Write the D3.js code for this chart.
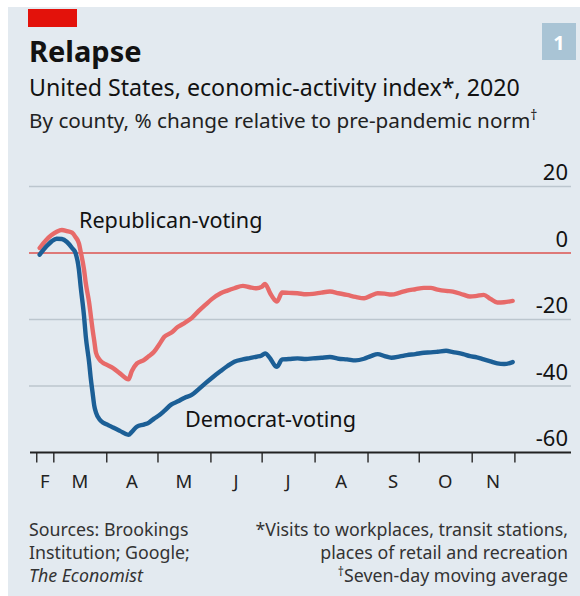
<!DOCTYPE html>
<html>
<head>
<meta charset="utf-8">
<script src="https://cdn.jsdelivr.net/npm/d3@7/dist/d3.min.js"></script>
<style>
  html, body { margin: 0; padding: 0; background: #ffffff; }
  svg { display: block; }
  text { font-family: "Noto Sans", "Open Sans", sans-serif; fill: #121212; }
</style>
</head>
<body>
<svg id="chart" width="580" height="596"></svg>
<script>
// ---- Data ----
const dates = ["2020-02-22","2020-02-26","2020-02-29","2020-03-03","2020-03-06","2020-03-09","2020-03-12","2020-03-14","2020-03-16","2020-03-17","2020-03-19","2020-03-20","2020-03-22","2020-03-23","2020-03-24","2020-03-25","2020-03-26","2020-03-28","2020-03-30","2020-04-02","2020-04-05","2020-04-09","2020-04-14","2020-04-16","2020-04-19","2020-04-23","2020-04-26","2020-04-29","2020-05-02","2020-05-05","2020-05-09","2020-05-13","2020-05-17","2020-05-21","2020-05-25","2020-05-29","2020-06-02","2020-06-07","2020-06-11","2020-06-15","2020-06-20","2020-06-24","2020-06-28","2020-07-01","2020-07-03","2020-07-06","2020-07-09","2020-07-10","2020-07-13","2020-07-17","2020-07-22","2020-07-27","2020-07-31","2020-08-05","2020-08-10","2020-08-15","2020-08-20","2020-08-25","2020-08-30","2020-09-03","2020-09-07","2020-09-11","2020-09-15","2020-09-20","2020-09-24","2020-09-29","2020-10-04","2020-10-08","2020-10-12","2020-10-17","2020-10-21","2020-10-27","2020-10-31","2020-11-04","2020-11-08","2020-11-12","2020-11-16","2020-11-20","2020-11-25"];
const republican = [1.5,4.0,5.4,6.4,6.9,6.6,6.1,4.8,2.9,0.5,-5,-9,-15,-19,-23,-26.5,-30,-32,-33,-33.8,-34.6,-36.2,-38,-35.5,-33.2,-32.2,-31,-29.7,-27.5,-25.2,-24,-22.2,-21,-19.6,-17.5,-15.6,-13.8,-12.1,-11.3,-10.6,-9.9,-10.3,-10.6,-10.2,-9.3,-12.1,-14.3,-14.6,-11.9,-12,-12.1,-12.4,-12.3,-11.9,-11.6,-12.1,-12.6,-13.2,-13.6,-12.8,-12.1,-12.2,-12.5,-11.9,-11.3,-10.9,-10.5,-10.5,-11,-11.4,-11.6,-12.5,-13.1,-12.9,-12.6,-13.8,-14.9,-14.8,-14.4];
const democrat = [-0.5,2.0,3.5,4.3,4.2,3.3,1.5,0,-5,-10,-19,-25,-33,-38,-42,-46,-48,-50,-51,-51.7,-52.5,-53.5,-54.7,-53.8,-52.2,-51.6,-51,-49.8,-48.8,-47.5,-45.6,-44.6,-43.5,-42.7,-41,-39.2,-37.5,-35.5,-34,-32.7,-32,-31.6,-31.2,-30.8,-30.2,-31.7,-34,-34.2,-32,-31.9,-31.7,-31.9,-31.7,-31.5,-31.3,-31.8,-32,-32.3,-31.8,-31,-30.4,-31,-31.5,-31.1,-30.7,-30.4,-30,-29.9,-29.7,-29.4,-29.8,-30.4,-31,-31.4,-32,-32.6,-33.2,-33.4,-32.8];
const yTicks = [20, 0, -20, -40, -60];
const xTickDates = ["2020-02-20","2020-03-01","2020-04-01","2020-05-01","2020-06-01","2020-07-01","2020-08-01","2020-09-01","2020-10-01","2020-11-01","2020-11-26"];
const monthLabels = ["F","M","A","M","J","J","A","S","O","N"];

const parse = d3.timeParse("%Y-%m-%d");
const svg = d3.select("#chart");

// background panel
svg.append("rect").attr("x", 8).attr("y", 7).attr("width", 572).attr("height", 589).attr("fill", "#e3eaf0");
// red tag
svg.append("rect").attr("x", 28).attr("y", 9).attr("width", 49).attr("height", 18).attr("fill", "#e3120b");
// chart number box
svg.append("rect").attr("x", 542).attr("y", 23).attr("width", 34).attr("height", 37).attr("fill", "#a9c4d5");
svg.append("text").attr("x", 559).attr("y", 49.5).attr("text-anchor", "middle")
  .style("font-size", "20px").style("font-weight", "700").style("fill", "#ffffff").text("1");

// titles
svg.append("text").attr("x", 29).attr("y", 62).style("font-size", "29px").style("font-weight", "700").text("Relapse");
svg.append("text").attr("x", 29).attr("y", 96).style("font-size", "23.2px").text("United States, economic-activity index*, 2020");
const sub = svg.append("text").attr("x", 29).attr("y", 128).style("font-size", "20.7px").style("fill", "#222");
sub.append("tspan").text("By county, % change relative to pre-pandemic norm");
sub.append("tspan").attr("dy", -8).style("font-size", "14px").text("†");

// scales
const x = d3.scaleTime().domain([parse("2020-03-01"), parse("2020-11-01")]).range([53.3, 471.7]);
const y = d3.scaleLinear().domain([-60, 20]).range([452.5, 186.5]);

// gridlines
svg.append("g").selectAll("line").data(yTicks.filter(d => d !== 0 && d !== -60)).join("line")
  .attr("x1", 29).attr("x2", 571).attr("y1", d => y(d)).attr("y2", d => y(d))
  .attr("stroke", "#bcc6ce").attr("stroke-width", 1.5);

// y labels
svg.append("g").selectAll("text").data(yTicks).join("text")
  .attr("x", 568).attr("y", d => y(d) - 6.5).attr("text-anchor", "end")
  .style("font-size", "22px").text(d => d);

// zero line
svg.append("line").attr("x1", 29).attr("x2", 571).attr("y1", y(0)).attr("y2", y(0))
  .attr("stroke", "#dc5350").attr("stroke-width", 1.6);

// x axis
const xAxis = d3.axisBottom(x).tickValues(xTickDates.map(parse)).tickFormat("").tickSize(10).tickSizeOuter(0);
const gx = svg.append("g").attr("transform", `translate(0,${y(-60)})`).call(xAxis);
gx.select(".domain").remove();
gx.selectAll(".tick line").attr("stroke", "#333").attr("stroke-width", 1.5);
svg.append("line").attr("x1", 30).attr("x2", 571).attr("y1", y(-60)).attr("y2", y(-60))
  .attr("stroke", "#222").attr("stroke-width", 2);

// month labels centred between ticks
const tickDs = xTickDates.map(parse);
svg.append("g").selectAll("text").data(monthLabels).join("text")
  .attr("x", (d, i) => (x(tickDs[i]) + x(tickDs[i + 1])) / 2)
  .attr("y", 488).attr("text-anchor", "middle").style("font-size", "18.5px").style("fill", "#222")
  .text(d => d);

// lines
const series = [
  { name: "Republican-voting", values: republican, color: "#e76a69" },
  { name: "Democrat-voting", values: democrat, color: "#1c5f96" }
];
const line = d3.line().x((d, i) => x(parse(dates[i]))).y(d => y(d)).curve(d3.curveMonotoneX);
svg.append("g").selectAll("path").data(series).join("path")
  .attr("d", s => line(s.values)).attr("fill", "none")
  .attr("stroke", s => s.color).attr("stroke-width", 4.4)
  .attr("stroke-linejoin", "round").attr("stroke-linecap", "round");

// series labels
svg.append("text").attr("x", 79).attr("y", 228).style("font-size", "21.6px").text("Republican-voting");
svg.append("text").attr("x", 185).attr("y", 427).style("font-size", "21.6px").text("Democrat-voting");

// footer
const fs = "17.8px";
const left = svg.append("g").style("font-size", fs);
left.append("text").attr("x", 29).attr("y", 536).style("fill", "#333").text("Sources: Brookings");
left.append("text").attr("x", 29).attr("y", 559).style("fill", "#333").text("Institution; Google;");
left.append("text").attr("x", 29).attr("y", 582).style("fill", "#333").style("font-style", "italic").text("The Economist");
const right = svg.append("g").style("font-size", fs).attr("text-anchor", "end");
right.append("text").attr("x", 568).attr("y", 536).style("fill", "#333").text("*Visits to workplaces, transit stations,");
right.append("text").attr("x", 568).attr("y", 559).style("fill", "#333").text("places of retail and recreation");
const r3 = right.append("text").attr("x", 568).attr("y", 582).style("fill", "#333");
r3.append("tspan").attr("dy", -6).style("font-size", "12px").text("†");
r3.append("tspan").attr("dy", 6).text("Seven-day moving average");
</script>
</body>
</html>
